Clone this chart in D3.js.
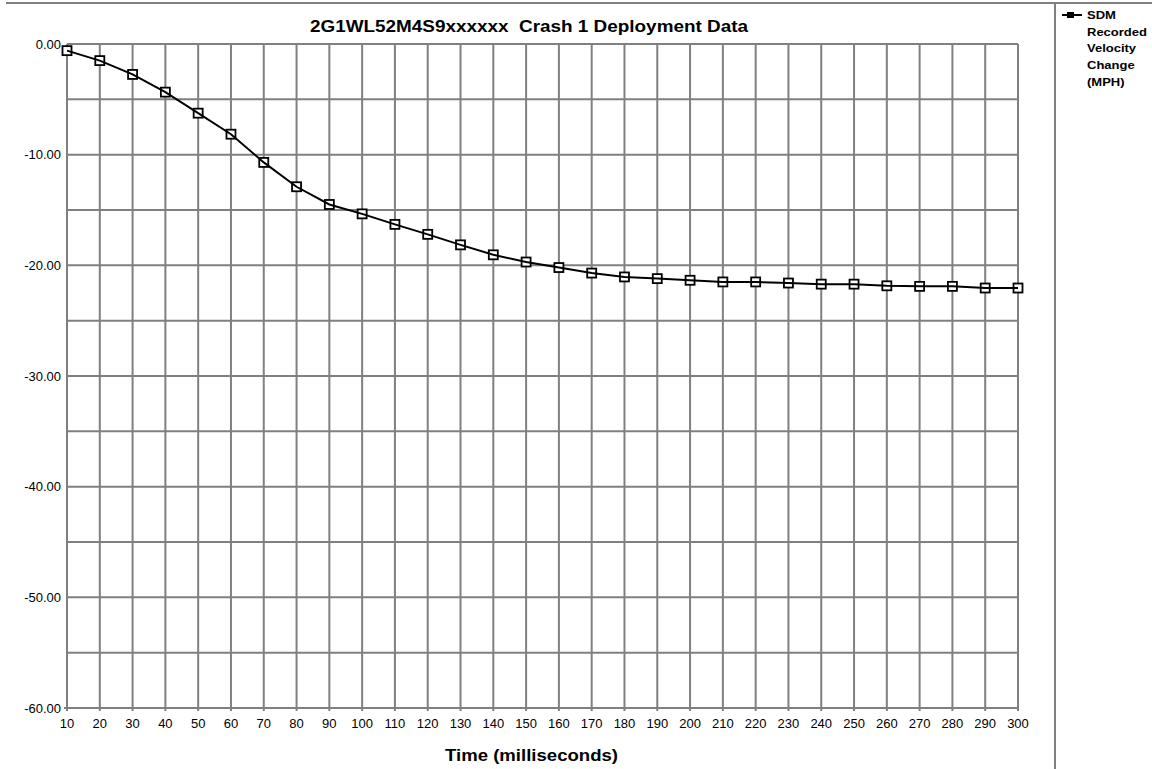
<!DOCTYPE html>
<html>
<head>
<meta charset="utf-8">
<script src="https://cdn.jsdelivr.net/npm/d3@7"></script>
<style>
	body { margin: 0; background: #fff; }
	svg { display: block; font-family: "Liberation Sans", Arial, sans-serif; }
	.grid line { stroke: #808080; stroke-width: 2; }
	.tick-label { font-size: 13px; fill: #000; }
	.title { font-size: 17px; font-weight: bold; }
	.legend-text { font-size: 11.5px; font-weight: bold; }
</style>
</head>
<body>
<div id="chart"></div>
<script>

var times = [10, 20, 30, 40, 50, 60, 70, 80, 90, 100, 110, 120, 130, 140, 150,
	160, 170, 180, 190, 200, 210, 220, 230, 240, 250, 260, 270, 280, 290, 300];
var velocity = [-0.6, -1.5, -2.75, -4.35, -6.25, -8.15, -10.7, -12.9, -14.5, -15.35,
	-16.3, -17.2, -18.15, -19.05, -19.7, -20.2, -20.7, -21.05, -21.2, -21.35,
	-21.5, -21.5, -21.6, -21.7, -21.7, -21.85, -21.9, -21.9, -22.05, -22.05];
var yTicks = [0, -10, -20, -30, -40, -50, -60];
var yMinor = [-5, -15, -25, -35, -45, -55];
var legendLines = ['SDM', 'Recorded', 'Velocity', 'Change', '(MPH)'];

var W = 1152, H = 769;
var margin = { left: 67, top: 44, right: 1018, bottom: 708 };

var svg = d3.select('#chart').append('svg')
	.attr('width', W)
	.attr('height', H);

// outer frame
svg.append('line')
	.attr('x1', 6).attr('x2', W)
	.attr('y1', 3).attr('y2', 3)
	.attr('stroke', '#808080').attr('stroke-width', 2);
svg.append('line')
	.attr('x1', 1055).attr('x2', 1055)
	.attr('y1', 3).attr('y2', H)
	.attr('stroke', '#808080').attr('stroke-width', 2);

var x = d3.scalePoint()
	.domain(times)
	.range([margin.left, margin.right]);
var y = d3.scaleLinear()
	.domain([0, -60])
	.range([margin.top, margin.bottom]);

var grid = svg.append('g').attr('class', 'grid');

// horizontal gridlines (major + minor)
yTicks.concat(yMinor).forEach(function (v) {
	grid.append('line')
		.attr('x1', margin.left - (v === -60 ? 3 : 0))
		.attr('x2', margin.right)
		.attr('y1', y(v)).attr('y2', y(v));
});
// vertical gridlines with ticks below
times.forEach(function (t) {
	grid.append('line')
		.attr('x1', x(t)).attr('x2', x(t))
		.attr('y1', margin.top).attr('y2', margin.bottom + 3);
});

// y labels
svg.append('g').selectAll('text')
	.data(yTicks)
	.enter().append('text')
	.attr('class', 'tick-label')
	.attr('x', 61)
	.attr('y', function (d) { return y(d) + 4.5; })
	.attr('text-anchor', 'end')
	.text(function (d) { return d3.format('.2f')(d).replace('−', '-'); });

// x labels
svg.append('g').selectAll('text')
	.data(times)
	.enter().append('text')
	.attr('class', 'tick-label')
	.attr('x', function (d) { return x(d); })
	.attr('y', 727.5)
	.attr('text-anchor', 'middle')
	.text(function (d) { return d; });

// series
var data = times.map(function (t, i) { return { t: t, v: velocity[i] }; });
var line = d3.line()
	.x(function (d) { return x(d.t); })
	.y(function (d) { return y(d.v); });

svg.append('g').selectAll('rect')
	.data(data)
	.enter().append('rect')
	.attr('x', function (d) { return x(d.t) - 4.5; })
	.attr('y', function (d) { return y(d.v) - 4.5; })
	.attr('width', 9).attr('height', 9)
	.attr('fill', '#fff')
	.attr('stroke', '#000')
	.attr('stroke-width', 1.8);

svg.append('path')
	.datum(data)
	.attr('d', line)
	.attr('fill', 'none')
	.attr('stroke', '#000')
	.attr('stroke-width', 2);

// titles
svg.append('text')
	.attr('class', 'title')
	.attr('x', 310).attr('y', 32)
	.attr('textLength', 438)
	.attr('lengthAdjust', 'spacingAndGlyphs')
	.attr('xml:space', 'preserve')
	.text('2G1WL52M4S9xxxxxx  Crash 1 Deployment Data');
svg.append('text')
	.attr('class', 'title')
	.attr('x', 445).attr('y', 761)
	.attr('textLength', 173)
	.attr('lengthAdjust', 'spacingAndGlyphs')
	.text('Time (milliseconds)');

// legend
svg.append('line')
	.attr('x1', 1062).attr('x2', 1082)
	.attr('y1', 15).attr('y2', 15)
	.attr('stroke', '#000').attr('stroke-width', 2);
svg.append('rect')
	.attr('x', 1067).attr('y', 12)
	.attr('width', 7).attr('height', 6)
	.attr('fill', '#000');
svg.append('g')
	.attr('transform', 'translate(1087,0) scale(1.13,1)')
	.selectAll('text')
	.data(legendLines)
	.enter().append('text')
	.attr('class', 'legend-text')
	.attr('x', 0)
	.attr('y', function (d, i) { return 19 + i * 16.7; })
	.text(function (d) { return d; });

</script>
</body>
</html>
